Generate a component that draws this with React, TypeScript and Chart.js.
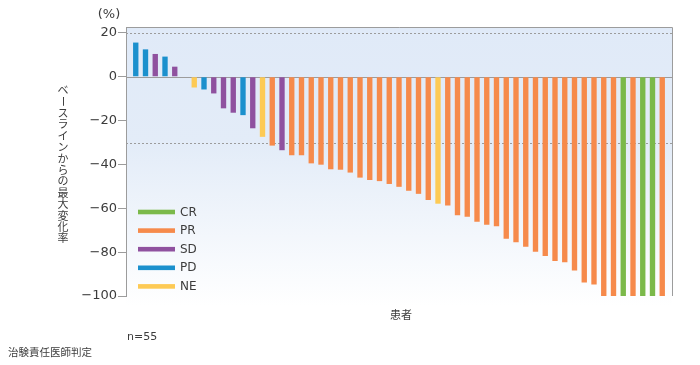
import React, { useEffect, useRef } from 'react';
import { Chart, registerables } from 'chart.js';

Chart.register(...registerables);

// Best percentage change from baseline for each patient (sorted waterfall)
const changes = [
  15.6, 12.5, 10.4, 9.2, 4.6, 0, -4.9, -5.8, -7.6, -14.4,
  -16.4, -17.5, -23.5, -27.4, -31.4, -33.5, -35.8, -35.8, -39.5, -40.1,
  -42.2, -42.4, -43.7, -46.0, -47.1, -47.6, -48.9, -50.2, -52.0, -53.4,
  -56.2, -57.9, -58.7, -63.2, -63.9, -66.1, -67.5, -68.2, -73.9, -75.5,
  -77.5, -79.8, -81.8, -84.0, -84.6, -88.4, -93.8, -94.7, -100, -100,
  -100, -100, -100, -100, -100,
];

// Best overall response for each patient
const responses = [
  'PD', 'PD', 'SD', 'PD', 'SD', 'SD', 'NE', 'PD', 'SD', 'SD',
  'SD', 'PD', 'SD', 'NE', 'PR', 'SD', 'PR', 'PR', 'PR', 'PR',
  'PR', 'PR', 'PR', 'PR', 'PR', 'PR', 'PR', 'PR', 'PR', 'PR',
  'PR', 'NE', 'PR', 'PR', 'PR', 'PR', 'PR', 'PR', 'PR', 'PR',
  'PR', 'PR', 'PR', 'PR', 'PR', 'PR', 'PR', 'PR', 'PR', 'PR',
  'CR', 'PR', 'CR', 'CR', 'PR',
];

const responseTypes = ['CR', 'PR', 'SD', 'PD', 'NE'];
const responseColors = ['#7bb94a', '#f68a4b', '#8f519f', '#1b90cd', '#fdca55'];

const yTicks = [20, 0, -20, -40, -60, -80, -100];
const refLines = [20, -30];

const yTitle = 'ベースラインからの最大変化率';
const xTitle = '患者';
const unitLabel = '(%)';
const nLabel = 'n=55';
const footnote = '治験責任医師判定';

const LATIN = '"DejaVu Sans", "Noto Sans CJK JP", sans-serif';
const CJK = '"Noto Sans CJK JP", sans-serif';
const TEXT = '#3c3c3c';
const LINE = '#9c9c9c';

const decorPlugin = {
  id: 'decor',
  beforeDraw(chart: any) {
    const { ctx, chartArea } = chart;
    const { left, right, top, bottom } = chartArea;
    const bgBottom = bottom + 10;
    ctx.save();
    const g = ctx.createLinearGradient(0, top, 0, bgBottom);
    g.addColorStop(0, '#e0eaf8');
    g.addColorStop(0.42, '#e3ecf8');
    g.addColorStop(1, '#ffffff');
    ctx.fillStyle = g;
    ctx.fillRect(left, top, right - left, bgBottom - top);
    ctx.restore();
  },
  beforeDatasetsDraw(chart: any) {
    const { ctx, chartArea, scales } = chart;
    const { left, right, top, bottom } = chartArea;
    const y = scales.y;
    ctx.save();
    ctx.lineWidth = 1;
    ctx.strokeStyle = LINE;
    ctx.setLineDash([2, 2]);
    refLines.forEach((v) => {
      const py = Math.round(y.getPixelForValue(v)) + 0.5;
      ctx.beginPath();
      ctx.moveTo(left, py);
      ctx.lineTo(right, py);
      ctx.stroke();
    });
    ctx.setLineDash([]);
    const zy = Math.round(y.getPixelForValue(0)) + 0.5;
    ctx.beginPath();
    ctx.moveTo(left, zy);
    ctx.lineTo(right, zy);
    ctx.stroke();
    // frame top and right
    ctx.beginPath();
    ctx.moveTo(left, Math.round(top) + 0.5);
    ctx.lineTo(right + 0.5, Math.round(top) + 0.5);
    ctx.lineTo(right + 0.5, bottom);
    ctx.stroke();
    ctx.restore();
  },
  afterDraw(chart: any) {
    const { ctx } = chart;
    ctx.save();
    ctx.fillStyle = TEXT;
    ctx.textBaseline = 'middle';

    // unit
    ctx.font = `13px ${LATIN}`;
    ctx.textAlign = 'center';
    ctx.fillText(unitLabel, 109, 15);

    // vertical y title
    ctx.font = `11px ${CJK}`;
    const chars = Array.from(yTitle);
    const step = 11.4;
    const x0 = 63;
    const y0 = 90;
    chars.forEach((c, i) => {
      const cy = y0 + i * step;
      if (c === 'ー') {
        ctx.save();
        ctx.translate(x0, cy);
        ctx.rotate(Math.PI / 2);
        ctx.fillText(c, 0, 0);
        ctx.restore();
      } else {
        ctx.fillText(c, x0, cy);
      }
    });

    // x title
    ctx.font = `11px ${CJK}`;
    ctx.fillText(xTitle, 401, 315);

    // n label & footnote
    ctx.textAlign = 'left';
    ctx.font = `11px ${LATIN}`;
    ctx.fillText(nLabel, 127, 337);
    ctx.font = `10.5px ${CJK}`;
    ctx.fillText(footnote, 8, 352);

    // legend
    ctx.font = `12px ${LATIN}`;
    responseTypes.forEach((t, i) => {
      const cy = 212 + i * 18.6;
      ctx.fillStyle = responseColors[i];
      ctx.fillRect(138, cy - 2.3, 37, 4.6);
      ctx.fillStyle = TEXT;
      ctx.fillText(t, 180, cy + 0.5);
    });
    ctx.restore();
  },
};

export default function App() {
  const ref = useRef<HTMLCanvasElement | null>(null);

  useEffect(() => {
    if (!ref.current) return;
    const labels = ['', ...changes.map((_, i) => String(i + 1)), ''];
    const data = [null, ...changes, null];
    const colors = ['transparent', ...responses.map((r) => responseColors[responseTypes.indexOf(r)]), 'transparent'];

    const chart = new Chart(ref.current, {
      type: 'bar',
      data: {
        labels,
        datasets: [
          {
            data: data as any,
            backgroundColor: colors,
            borderWidth: 0,
            barPercentage: 0.55,
            categoryPercentage: 1,
          },
        ],
      },
      options: {
        animation: false,
        responsive: false,
        devicePixelRatio: 1,
        layout: { padding: { left: 0, top: 27, right: 28, bottom: 69 } },
        plugins: {
          legend: { display: false },
          tooltip: { enabled: false },
        },
        scales: {
          x: {
            display: false,
            offset: false,
            grid: { display: false },
          },
          y: {
            min: -100,
            max: 22.7,
            afterBuildTicks: (s: any) => {
              s.ticks = yTicks.map((v) => ({ value: v }));
            },
            afterFit: (s: any) => {
              s.width = 126;
            },
            border: { display: true, color: LINE, width: 1 },
            grid: {
              drawOnChartArea: false,
              drawTicks: true,
              tickLength: 8,
              color: LINE,
            },
            ticks: {
              padding: 1,
              color: TEXT,
              font: { family: LATIN, size: 13 },
              callback: (v: any) => (Number(v) < 0 ? '\u2212' + Math.abs(Number(v)) : String(v)),
            },
          },
        },
      },
      plugins: [decorPlugin],
    });
    return () => chart.destroy();
  }, []);

  return (
    <div style={{ position: 'absolute', left: 0, top: 0, width: 700, height: 365, background: '#fff' }}>
      <canvas ref={ref} width={700} height={365} style={{ display: 'block', width: 700, height: 365 }} />
    </div>
  );
}
